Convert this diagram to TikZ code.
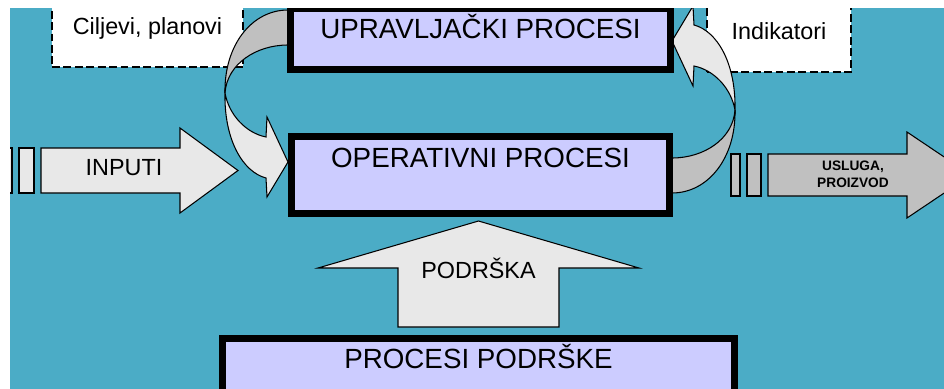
\documentclass[tikz,border=0pt]{standalone}
\usepackage{fontspec}
\setmainfont{Liberation Sans}
\usepackage{xcolor}
\definecolor{seaBlue}{HTML}{4BACC6}
\definecolor{procLilac}{HTML}{CCCCFF}
\definecolor{paleGrey}{HTML}{E8E8E8}
\definecolor{midGrey}{HTML}{C0C0C0}

\begin{document}
\begin{tikzpicture}[x=0.02cm,y=-0.02cm,
  process/.style={draw,line width=4pt,fill=procLilac,inner sep=0pt,anchor=base,
    font=\fontsize{15.8}{19}\selectfont},
  note/.style={draw,dash pattern=on 4.5pt off 2pt,line width=0.8pt,fill=white,
    inner sep=0pt,font=\fontsize{13.3}{16}\selectfont},
  block/.style={draw,line width=0.6pt,line join=miter}]

  \useasboundingbox (0,0) rectangle (944,389);
  \clip (10,8) rectangle (944,389);
  \fill[seaBlue] (10,8) rectangle (944,389);

  % Notes
  \node[note,minimum width=3.82cm,minimum height=1.54cm] (GoalsBox) at (147.5,28.5) {Ciljevi, planovi};
  \node[note,minimum width=2.88cm,minimum height=1.64cm] (IndicatorsBox) at (779,31) {Indikatori};

  % Feedback loop, left
  \draw[block,fill=midGrey] (295,10) -- (288,10) .. controls (252,10) and (224,45) .. (225,93)
    .. controls (227,64) and (256,45) .. (288,45) -- (295,45) -- cycle;
  \draw[block,fill=paleGrey] (225,93) .. controls (224,140) and (243,172) .. (266,178)
    -- (267,197) -- (288,162) -- (267,117) -- (266,137)
    .. controls (246,133) and (229,115) .. (225,93) -- cycle;

  % Feedback loop, right
  \begin{scope}[rotate around={180:(480,101.5)}]
  \draw[block,fill=midGrey] (295,10) -- (288,10) .. controls (252,10) and (224,45) .. (225,93)
    .. controls (227,64) and (256,45) .. (288,45) -- (295,45) -- cycle;
  \draw[block,fill=paleGrey] (225,93) .. controls (224,140) and (243,172) .. (266,178)
    -- (267,197) -- (288,162) -- (267,117) -- (266,137)
    .. controls (246,133) and (229,115) .. (225,93) -- cycle;
  \end{scope}

  % Processes
  \node[process,minimum width=7.6cm,text height=0.59cm,text depth=0.63cm] (ProcessUpr) at (480.5,38) {UPRAVLJAČKI PROCESI};
  \node[process,minimum width=7.56cm,text height=0.61cm,text depth=0.93cm] (ProcessOper) at (480.5,167) {OPERATIVNI PROCESI};
  \node[process,minimum width=10.24cm,text height=0.59cm,text depth=1.2cm] (ProcessSupport) at (478.5,368) {PROCESI PODRŠKE};

  % Input
  \draw[block,fill=paleGrey] (-5,148) rectangle (12,193);
  \draw[block,fill=paleGrey] (19,148) rectangle (34,193);
  \draw[block,fill=paleGrey] (41,148) -- (180,148) -- (180,128) -- (238,170.5)
    -- (180,213) -- (180,193) -- (41,193) -- cycle;
  \node[font=\fontsize{13.3}{16}\selectfont] (InputLabel) at (124,168) {INPUTI};

  % Output
  \draw[block,fill=midGrey] (731,154) rectangle (740,196);
  \draw[block,fill=midGrey] (747,154) rectangle (761,196);
  \draw[block,fill=midGrey] (768,154) -- (907,154) -- (907,132) -- (971,175)
    -- (907,218) -- (907,196) -- (768,196) -- cycle;
  \node[font=\bfseries\fontsize{7.8}{9.7}\selectfont,align=center] (OutputLabel) at (853,174) {USLUGA,\\PROIZVOD};

  % Support
  \draw[block,fill=paleGrey] (398,327) -- (398,268) -- (318,268) -- (478.5,221)
    -- (639,268) -- (559,268) -- (559,327) -- cycle;
  \node[font=\fontsize{13.3}{16}\selectfont] (SupportLabel) at (478.5,268) {PODRŠKA};

\end{tikzpicture}
\end{document}
